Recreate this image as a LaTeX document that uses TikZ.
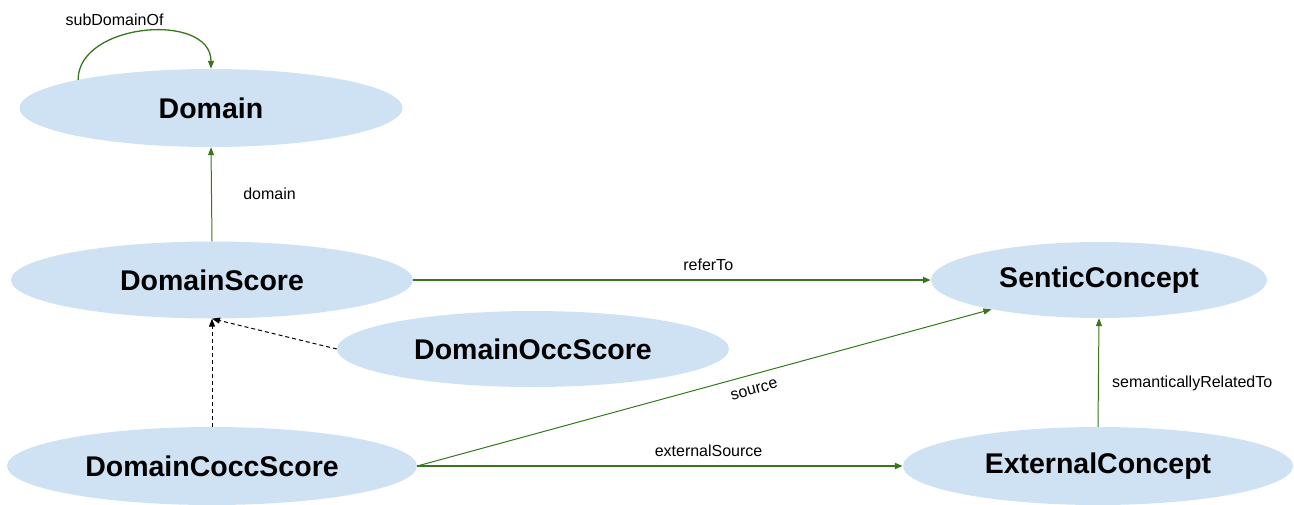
\documentclass[tikz,border=0pt]{standalone}
\usepackage{fontspec}
\setmainfont{Liberation Sans}
\usetikzlibrary{shapes,arrows.meta}

\definecolor{conceptblue}{HTML}{CFE2F3}
\definecolor{relgreen}{HTML}{38761D}

\begin{document}
\begin{tikzpicture}[
      x=1pt, y=-1pt,
      >={Triangle[length=8pt,width=6pt]},
      concept/.style={ellipse, fill=conceptblue, inner sep=0pt, font=\fontsize{28.5}{32}\selectfont\bfseries},
      rel/.style={->, draw=relgreen, line width=1pt},
      relthick/.style={rel, line width=2pt},
      subclass/.style={->, draw=black, line width=1pt, dash pattern=on 4pt off 3pt},
      lbl/.style={font=\fontsize{16}{19}\selectfont, text=black},
      ]
      \useasboundingbox (0,0) rectangle (1294,504);

      \node[concept, minimum width=383pt, minimum height=78pt] (D) at (211,108) {Domain};
      \node[concept, minimum width=402pt, minimum height=77pt] (DS) at (212,280) {DomainScore};
      \node[concept, minimum width=392pt, minimum height=76pt] (DOS) at (533,349) {DomainOccScore};
      \node[concept, minimum width=410pt, minimum height=78pt] (DCS) at (212,466) {DomainCoccScore};
      \node[concept, minimum width=336pt, minimum height=76pt] (SC) at (1099,280) {SenticConcept};
      \node[concept, minimum width=390pt, minimum height=78pt] (EC) at (1098,466) {ExternalConcept};

      \draw[rel, line width=1.3pt] (D.168) to[out=90, in=90, looseness=1.1]
            node[lbl, pos=0.5, above=2pt, xshift=-30pt] {subDomainOf} (D.north);
      \draw[rel] (DS.north) -- node[lbl, right=28pt] {domain} (D.south);
      \draw[relthick] (DS.east) -- node[lbl, pos=0.57, above=5pt] {referTo} (SC.west);
      \draw[rel] (DCS.east) -- node[lbl, pos=0.58, below=7pt, sloped] {source} (SC);
      \draw[relthick] (DCS.east) -- node[lbl, pos=0.6, above=5pt] {externalSource} (EC.west);
      \draw[rel] (EC.north) -- node[lbl, pos=0.4, right=10pt] {semanticallyRelatedTo} (SC.south);

      \draw[subclass] (DOS.west) -- (DS.south);
      \draw[subclass] (DCS.north) -- (DS.south);
    \end{tikzpicture}
\end{document}
